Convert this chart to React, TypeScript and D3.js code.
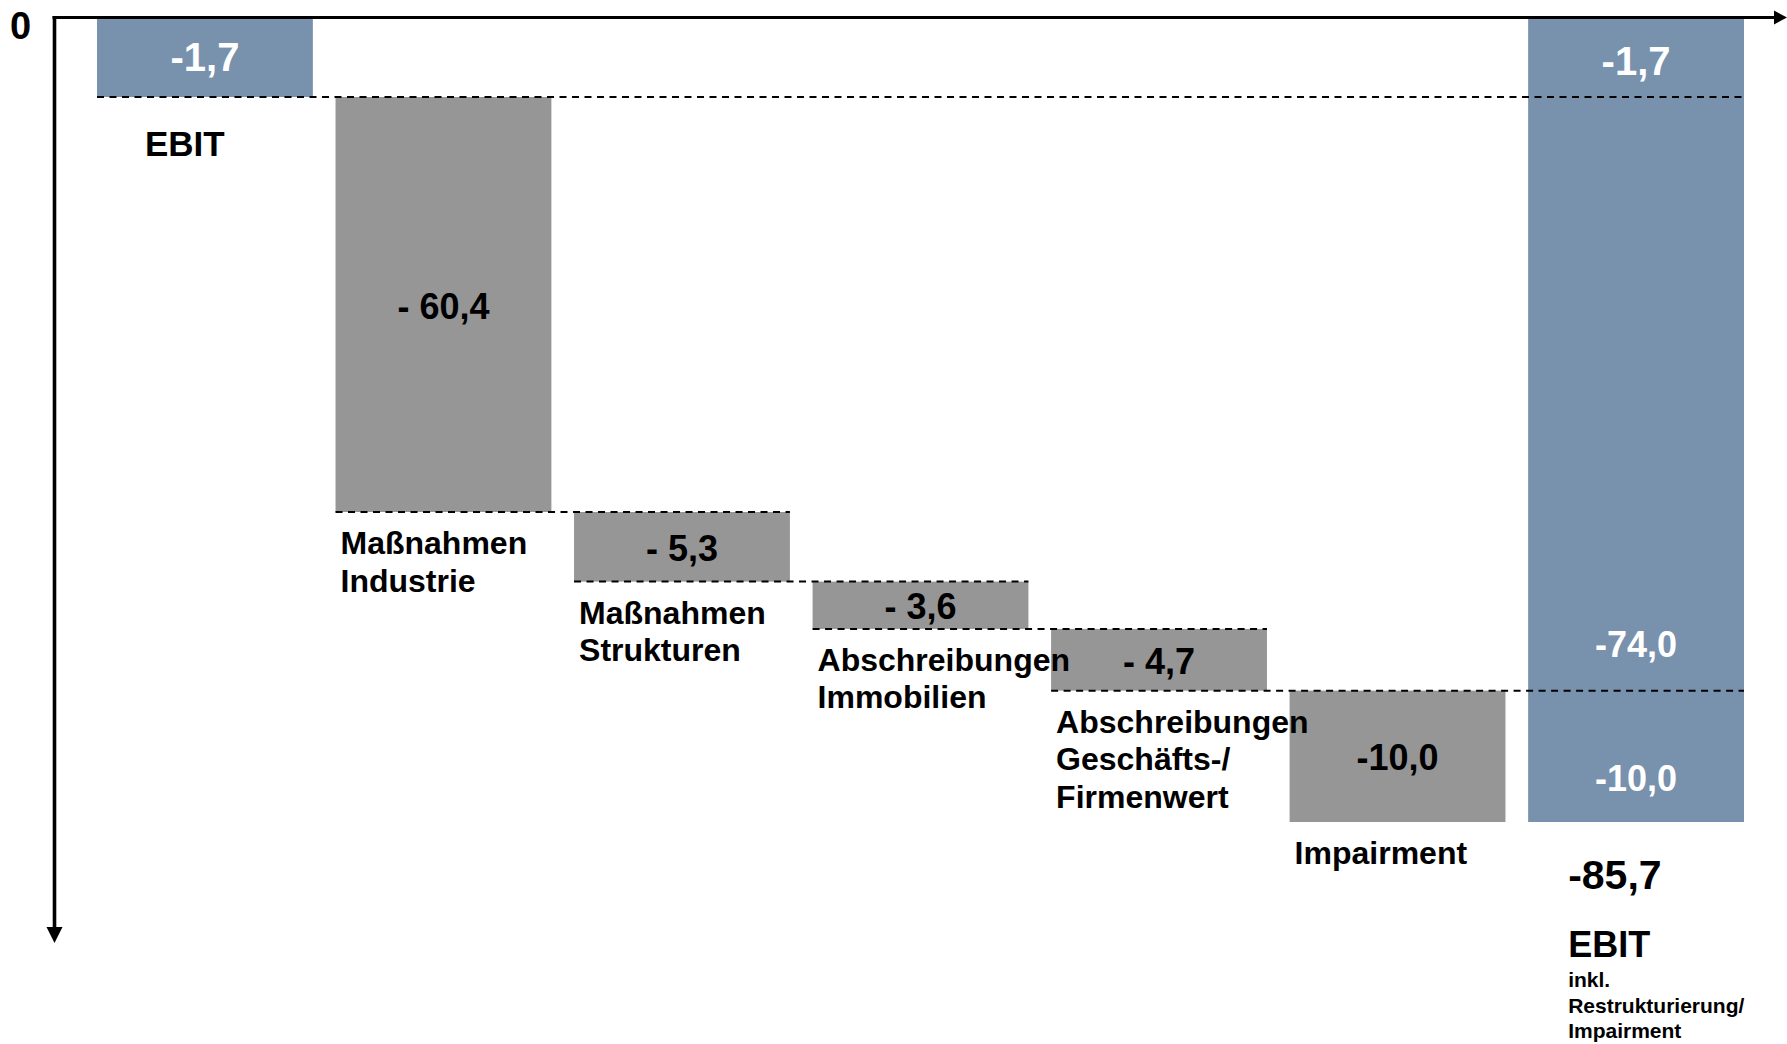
import React from "react";
import * as d3 from "d3";

// ---- data ----
const categories = [
  "EBIT",
  "Maßnahmen Industrie",
  "Maßnahmen Strukturen",
  "Abschreibungen Immobilien",
  "Abschreibungen Geschäfts-/Firmenwert",
  "Impairment",
  "EBIT inkl. Restrukturierung/Impairment",
];
const categoryLines = [
  ["EBIT"],
  ["Maßnahmen", "Industrie"],
  ["Maßnahmen", "Strukturen"],
  ["Abschreibungen", "Immobilien"],
  ["Abschreibungen", "Geschäfts-/", "Firmenwert"],
  ["Impairment"],
];
const deltas = [-1.7, -60.4, -5.3, -3.6, -4.7, -10.0];
const deltaLabels = ["-1,7", "- 60,4", "- 5,3", "- 3,6", "- 4,7", "-10,0"];
const totalSegments = [-1.7, -74.0, -10.0];
const totalSegmentLabels = ["-1,7", "-74,0", "-10,0"];
const totalLabel = "-85,7";
const totalTitle = "EBIT";
const totalSubLines = ["inkl.", "Restrukturierung/", "Impairment"];
const zeroLabel = "0";

const W = 1787;
const H = 1044;
const BLUE = "#7891ad";
const GRAY = "#969696";
const FONT = "'Liberation Sans', Arial, Helvetica, sans-serif";

export default function App() {
  const cum: number[] = [];
  deltas.reduce((acc, d) => {
    const v = +(acc + d).toFixed(1);
    cum.push(v);
    return v;
  }, 0);
  const total = cum[cum.length - 1];
  const totalCum: number[] = [];
  totalSegments.reduce((acc, d) => {
    const v = +(acc + d).toFixed(1);
    totalCum.push(v);
    return v;
  }, 0);

  const x = d3
    .scaleBand<number>()
    .domain(d3.range(categories.length))
    .range([97, 1744])
    .paddingInner(0.095)
    .paddingOuter(0);
  const bw = x.bandwidth();
  // broken (piecewise) value axis, as in the original schematic chart
  const y = d3
    .scaleLinear()
    .domain([0, cum[0], cum[1], total])
    .range([18, 97, 512, 822]);

  const lastIdx = categories.length - 1;

  const bars = deltas.map((d, i) => {
    const start = i === 0 ? 0 : cum[i - 1];
    const end = cum[i];
    return { i, start, end, color: i === 0 ? BLUE : GRAY, label: deltaLabels[i] };
  });

  const connectors = cum.slice(0, cum.length - 1).map((lvl, i) => {
    const toTotal = totalCum.some((t) => Math.abs(t - lvl) < 1e-6);
    const x1 = x(i)!;
    const x2 = toTotal ? x(lastIdx)! + bw : x(i + 1)! + bw;
    return { lvl, x1, x2 };
  });

  const totalSegs = totalSegments.map((s, k) => {
    const start = k === 0 ? 0 : totalCum[k - 1];
    const end = totalCum[k];
    return { start, end, label: totalSegmentLabels[k], k };
  });

  const axisX = 54.5;
  const axisY = 17.5;

  return (
    <svg
      width={W}
      height={H}
      style={{ position: "absolute", left: 0, top: 0, background: "#fff" }}
      fontFamily={FONT}
      fontWeight="bold"
    >
      <rect x={0} y={0} width={W} height={H} fill="#fff" />
      <rect
        x={x(lastIdx)}
        y={y(0)}
        width={bw}
        height={y(total) - y(0)}
        fill={BLUE}
      />
      {bars.map((b) => (
        <rect
          key={b.i}
          x={x(b.i)}
          y={y(b.start)}
          width={bw}
          height={y(b.end) - y(b.start)}
          fill={b.color}
        />
      ))}
      {connectors.map((c, i) => (
        <line
          key={i}
          x1={c.x1}
          x2={c.x2}
          y1={y(c.lvl)}
          y2={y(c.lvl)}
          stroke="#000"
          strokeWidth={2}
          strokeDasharray="7,5.5"
        />
      ))}
      {bars.map((b) => (
        <text
          key={"v" + b.i}
          x={x(b.i)! + bw / 2}
          y={(y(b.start) + y(b.end)) / 2 + (b.i === 0 ? 13 : 14)}
          textAnchor="middle"
          fontSize={b.i === 0 ? 40 : 36}
          fill={b.i === 0 ? "#fff" : "#000"}
        >
          {b.label}
        </text>
      ))}
      {totalSegs.map((s) => {
        let cy: number;
        if (s.k === 0) cy = (y(s.start) + y(s.end)) / 2 + 2;
        else if (s.k === totalSegs.length - 1) cy = (y(s.start) + y(s.end)) / 2 + 22;
        else cy = y(s.end) - 47;
        return (
          <text
            key={"t" + s.k}
            x={x(lastIdx)! + bw / 2}
            y={cy + (s.k === 0 ? 15 : 13)}
            textAnchor="middle"
            fontSize={s.k === 0 ? 40 : 36}
            fill="#fff"
          >
            {s.label}
          </text>
        );
      })}
      {categoryLines.map((lines, i) => {
        if (i === 0) {
          return (
            <text key={"c0"} x={x(0)! + 48} y={y(cum[0]) + 59} fontSize={35} fill="#000">
              {lines[0]}
            </text>
          );
        }
        return (
          <text key={"c" + i} x={x(i)! + 5} y={y(cum[i]) + 42} fontSize={32} fill="#000">
            {lines.map((l, k) => (
              <tspan key={k} x={x(i)! + 5} dy={k === 0 ? 0 : 37.5}>
                {l}
              </tspan>
            ))}
          </text>
        );
      })}
      <text x={x(lastIdx)! + 40} y={y(total) + 67} fontSize={41} fill="#000">
        {totalLabel}
      </text>
      <text x={x(lastIdx)! + 40} y={y(total) + 135} fontSize={36} fill="#000">
        {totalTitle}
      </text>
      <text x={x(lastIdx)! + 40} y={y(total) + 165} fontSize={21} fill="#000">
        {totalSubLines.map((l, k) => (
          <tspan key={k} x={x(lastIdx)! + 40} dy={k === 0 ? 0 : 25.5}>
            {l}
          </tspan>
        ))}
      </text>
      <line x1={axisX - 2} x2={1776} y1={axisY} y2={axisY} stroke="#000" strokeWidth={3.2} />
      <path d={`M1774,${axisY - 7} L1787,${axisY} L1774,${axisY + 7} Z`} fill="#000" />
      <line x1={axisX} x2={axisX} y1={axisY - 1.5} y2={929} stroke="#000" strokeWidth={3.6} />
      <path d={`M${axisX - 8},927 L${axisX + 8},927 L${axisX},943 Z`} fill="#000" />
      <text x={10} y={39} fontSize={38} fill="#000">
        {zeroLabel}
      </text>
    </svg>
  );
}
